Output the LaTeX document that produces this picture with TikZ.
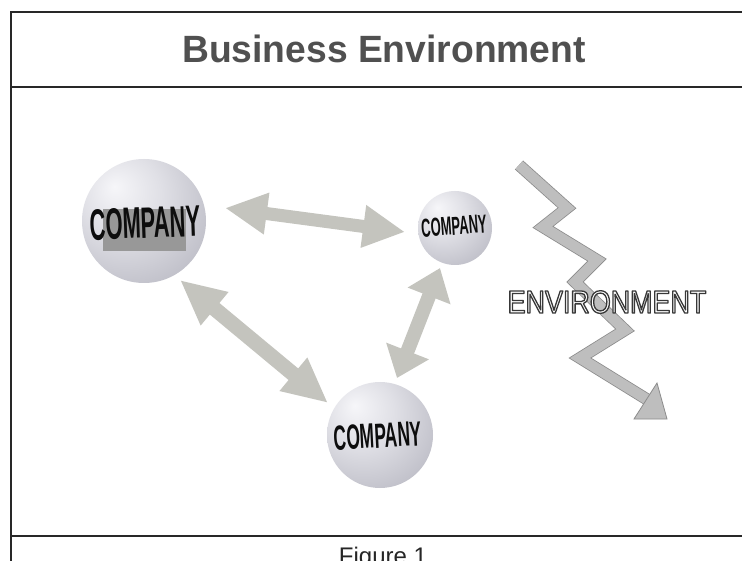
\documentclass[tikz,border=0pt]{standalone}
\usepackage{fontspec}
\setmainfont{Liberation Sans}
\newfontfamily\compfont{Liberation Sans}[FakeStretch=0.5]
\newfontfamily\envfont{Liberation Sans}[FakeStretch=0.84]
\newfontfamily\titlefont{Liberation Sans}[FakeStretch=0.98]
\usetikzlibrary{arrows.meta}
\definecolor{framecol}{RGB}{40,40,40}
\definecolor{titlecol}{RGB}{80,80,80}
\definecolor{arrowgray}{RGB}{196,196,190}
\definecolor{ziggray}{RGB}{190,190,190}
\definecolor{zigedge}{RGB}{140,140,140}
\definecolor{boxgray}{RGB}{152,152,152}
\definecolor{sphA}{RGB}{246,246,249}
\definecolor{sphB}{RGB}{224,224,230}
\definecolor{sphC}{RGB}{184,184,194}
\definecolor{sphD}{RGB}{112,112,120}
\pgfdeclareradialshading{sphereshade}{\pgfpoint{-12bp}{14bp}}{color(0bp)=(sphA); color(16bp)=(sphB); color(40bp)=(sphC); color(60bp)=(sphD); color(72bp)=(sphD)}
\newcommand{\outlinetext}[1]{\special{pdf:code q 2 Tr 1.3 w 1 j 0.22 G}#1\special{pdf:code Q}}
\tikzset{
  frameline/.style={draw=framecol, line width=1.4pt},
  sphere/.style={circle, inner sep=0pt, shading=sphereshade, minimum size=#1},
  comptext/.style={text=black!95, inner sep=0pt},
  dblarrow/.style={draw=arrowgray, line width=#1},
  zigband/.style={draw=zigedge, line width=0.8pt, double=ziggray, double distance=10.5pt, line join=miter},
  zighead/.style={fill=ziggray, draw=zigedge, line width=0.8pt, line join=miter},
  envstyle/.style={font=\envfont\fontsize{32}{32}\selectfont, inner sep=0pt, text=white},
}
\begin{document}
\begin{tikzpicture}[x=1pt,y=-1pt]
\useasboundingbox (0,0) rectangle (742,561);
\fill[white] (0,0) rectangle (742,561);
% frame
\draw[frameline] (742,12) -- (11,12) -- (11,561);
\draw[frameline] (11,87) -- (742,87);
\draw[frameline] (11,536) -- (742,536);
% title and caption
\node[anchor=base, inner sep=0pt, text=titlecol, font=\titlefont\bfseries\fontsize{38}{38}\selectfont] (title) at (384,63) {Business Environment};
\node[anchor=base, inner sep=0pt, text=black!85, font=\fontsize{24}{24}\selectfont] (fig) at (383,564) {Figure 1};
% spheres
\node[sphere=124pt] (c1) at (144,221) {};
\node[sphere=74pt] (c2) at (455,228) {};
\node[sphere=106pt] (c3) at (380,435) {};
% connector end points
\coordinate (a1s) at (225,208);
\coordinate (a1e) at (405,232);
\coordinate (a2s) at (180,280);
\coordinate (a2e) at (328,403);
\coordinate (a3s) at (440,268);
\coordinate (a3e) at (397,378);
\draw[dblarrow=13pt, {Triangle[length=42pt,width=39pt]}-{Triangle[length=42pt,width=40pt]}] (a1s) -- (a1e);
\draw[dblarrow=15pt, {Triangle[length=45pt,width=40pt]}-{Triangle[length=45pt,width=40pt]}] (a2s) -- (a2e);
\draw[dblarrow=14pt, {Triangle[length=30pt,width=44pt]}-{Triangle[length=29pt,width=44pt]}] (a3s) -- (a3e);
% company labels
\fill[boxgray] (103,209) rectangle (186,251);
\node[comptext, font=\compfont\bfseries\fontsize{44}{44}\selectfont, rotate=2] (t1) at (145,223) {COMPANY};
\node[comptext, font=\compfont\bfseries\fontsize{26}{26}\selectfont, rotate=4] (t2) at (454,226) {COMPANY};
\node[comptext, font=\compfont\bfseries\fontsize{35}{35}\selectfont, rotate=3] (t3) at (378,436) {COMPANY};
% environment zigzag
\coordinate (z0) at (519,165);
\coordinate (z1) at (567,208);
\coordinate (z2) at (543,227);
\coordinate (z3) at (597,260);
\coordinate (z4) at (575,282);
\coordinate (z5) at (625,330);
\coordinate (z6) at (580,358);
\coordinate (z7) at (648,400);
\coordinate (h1) at (657,383);
\coordinate (h2) at (667,419);
\coordinate (h3) at (634,419);
\draw[zigband] (z0) -- (z1) -- (z2) -- (z3) -- (z4) -- (z5) -- (z6) -- (z7);
\filldraw[zighead] (h1) -- (h2) -- (h3) -- cycle;
% outlined ENVIRONMENT
\node[envstyle] (env) at (607,302) {\outlinetext{ENVIRONMENT}};
\end{tikzpicture}
\end{document}
